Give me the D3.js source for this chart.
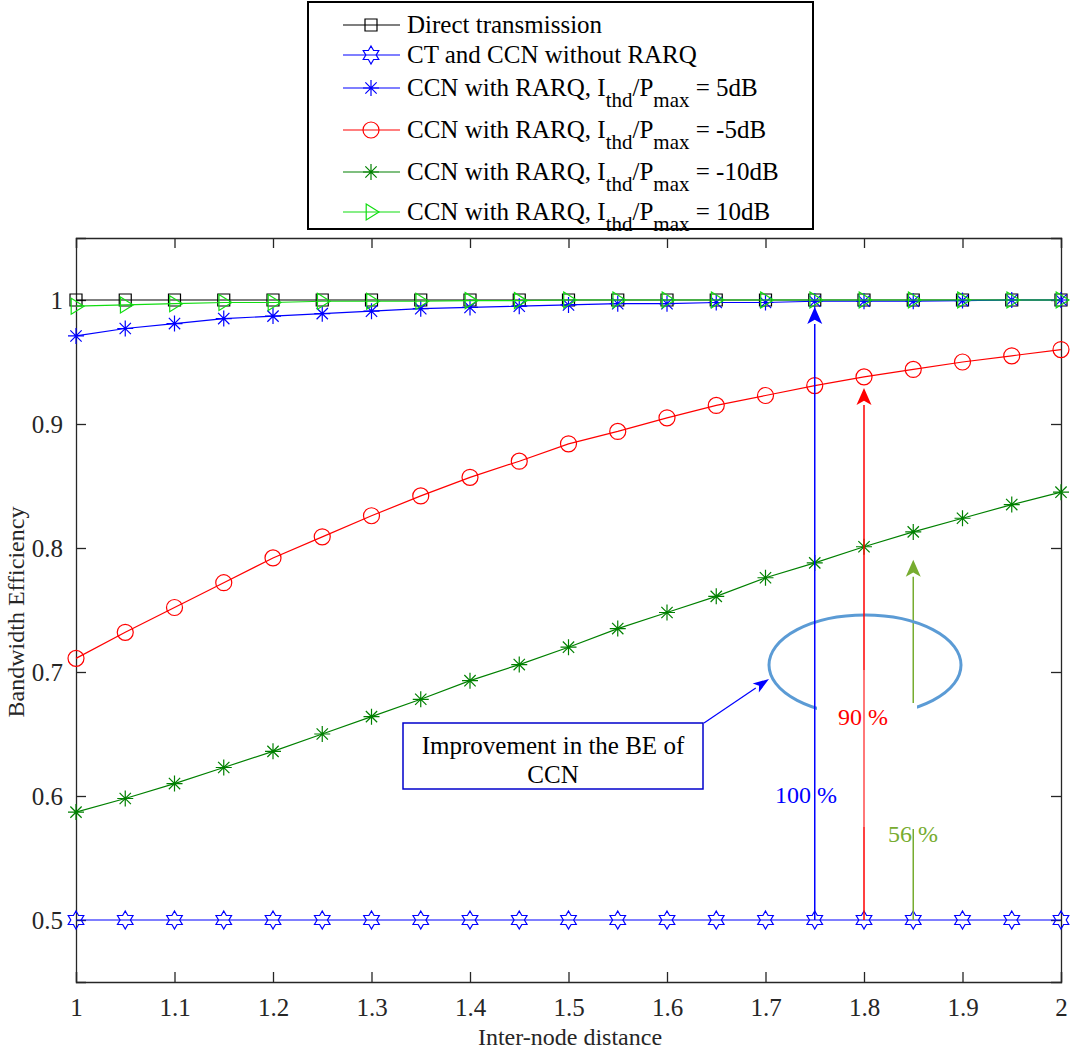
<!DOCTYPE html>
<html><head><meta charset="utf-8">
<script src="https://cdn.jsdelivr.net/npm/d3@7"></script>
<style>body{margin:0;background:#fff}svg{display:block}text{font-family:"Liberation Serif","Times New Roman",serif;}</style>
</head><body><svg id="c" width="1090" height="1050"></svg>
<script>
const xVals = [1,1.05,1.1,1.15,1.2,1.25,1.3,1.35,1.4,1.45,1.5,1.55,1.6,1.65,1.7,1.75,1.8,1.85,1.9,1.95,2];
const direct = [1,1,1,1,1,1,1,1,1,1,1,1,1,1,1,1,1,1,1,1,1];
const ctNoRarq = [0.5,0.5,0.5,0.5,0.5,0.5,0.5,0.5,0.5,0.5,0.5,0.5,0.5,0.5,0.5,0.5,0.5,0.5,0.5,0.5,0.5];
const rarq5 = [0.971,0.977,0.981,0.985,0.987,0.989,0.991,0.993,0.994,0.995,0.996,0.997,0.997,0.998,0.998,0.999,0.999,0.999,0.9995,1,1];
const rarqM5 = [0.711,0.732,0.752,0.772,0.792,0.809,0.826,0.842,0.857,0.870,0.884,0.894,0.905,0.915,0.923,0.931,0.938,0.944,0.950,0.955,0.960];
const rarqM10 = [0.587,0.598,0.610,0.623,0.636,0.650,0.664,0.678,0.693,0.706,0.720,0.735,0.748,0.761,0.776,0.788,0.801,0.813,0.824,0.835,0.845];
const rarq10 = [0.995,0.996,0.997,0.998,0.998,0.999,0.999,0.999,0.9995,0.9995,1,1,1,1,1,1,1,1,1,1,1];
const xTicks = [1,1.1,1.2,1.3,1.4,1.5,1.6,1.7,1.8,1.9,2];
const yTicks = [0.5,0.6,0.7,0.8,0.9,1];
const legendLabels = [
  ["Direct transmission"],
  ["CT and CCN without RARQ"],
  ["CCN with RARQ, I","thd","/P","max"," = 5dB"],
  ["CCN with RARQ, I","thd","/P","max"," = -5dB"],
  ["CCN with RARQ, I","thd","/P","max"," = -10dB"],
  ["CCN with RARQ, I","thd","/P","max"," = 10dB"]
];
const annotLabels = ["100 %","90 %","56 %"];
const annotX = [1.75,1.8,1.85];
const annotTop = [1.0,0.938,0.801];
const boxText = ["Improvement in the BE of","CCN"];

const svg = d3.select("#c");
const L=76,R=1061,T=238,B=982;
const x = d3.scaleLinear().domain([1,2]).range([L,R]);
const y = d3.scaleLinear().domain([0.45,1.05]).range([B,T]);

const ax = svg.append("g");
const axCol="#262626";
ax.append("g").attr("transform",`translate(0,${B})`).call(d3.axisBottom(x).tickValues(xTicks).tickSize(-10).tickFormat(d3.format("")).tickPadding(16));
ax.append("g").attr("transform",`translate(0,${T})`).call(d3.axisTop(x).tickValues(xTicks).tickSize(-10).tickFormat(""));
ax.append("g").attr("transform",`translate(${L},0)`).call(d3.axisLeft(y).tickValues(yTicks).tickSize(-10).tickFormat(d3.format("")).tickPadding(13));
ax.append("g").attr("transform",`translate(${R},0)`).call(d3.axisRight(y).tickValues(yTicks).tickSize(-10).tickFormat(""));
ax.selectAll(".domain").attr("stroke",axCol).attr("stroke-width",1.3);
ax.selectAll(".tick line").attr("stroke",axCol).attr("stroke-width",1.3);
ax.selectAll(".tick text").attr("fill","#262626").style("font-size","25px");

svg.append("text").attr("x",570).attr("y",1045).attr("text-anchor","middle").style("font-size","24px").attr("fill","#262626").text("Inter-node distance");
svg.append("text").attr("transform","translate(24,612) rotate(-90)").attr("text-anchor","middle").style("font-size","24px").attr("fill","#262626").text("Bandwidth Efficiency");

function hexagram(R){const r=R/Math.sqrt(3);let p=[];for(let i=0;i<12;i++){const a=-Math.PI/2+i*Math.PI/6;const rr=i%2?r:R;p.push([rr*Math.cos(a),rr*Math.sin(a)]);}return "M"+p.map(d=>d.join(",")).join("L")+"Z";}
function asterisk(s){const d=s*0.707;return `M${-s},0L${s},0M0,${-s}L0,${s}M${-d},${-d}L${d},${d}M${-d},${d}L${d},${-d}`;}
function triRight(s){return `M${-s*0.6},${-s}L${s},0L${-s*0.6},${s}Z`;}
function square(s){return `M${-s},${-s}H${s}V${s}H${-s}Z`;}
const markers = {
  square: g=>g.append("path").attr("d",square(6)),
  hex: g=>g.append("path").attr("d",hexagram(9)),
  ast: g=>g.append("path").attr("d",asterisk(8)),
  circ: g=>g.append("circle").attr("r",8),
  tri: g=>g.append("path").attr("d",triRight(8))
};
const series = [
  {v:direct,c:"#000000",m:"square"},
  {v:ctNoRarq,c:"#0000ff",m:"hex"},
  {v:rarq5,c:"#0000ff",m:"ast"},
  {v:rarqM5,c:"#ff0000",m:"circ"},
  {v:rarqM10,c:"#008000",m:"ast"},
  {v:rarq10,c:"#11dd11",m:"tri"}
];
const line = d3.line().x((d,i)=>x(xVals[i])).y(d=>y(d));
const plot = svg.append("g");
series.forEach(s=>{
  const g=plot.append("g");
  g.append("path").attr("d",line(s.v)).attr("fill","none").attr("stroke",s.c).attr("stroke-width",1.2);
  s.v.forEach((v,i)=>{
    const mg=g.append("g").attr("transform",`translate(${x(xVals[i])},${y(v)})`).attr("fill","none").attr("stroke",s.c).attr("stroke-width",1.2);
    markers[s.m](mg);
  });
});

function arrow(x1,y1,x2,y2,col,w,hl,hw){
  const g=svg.append("g");
  const a=Math.atan2(y2-y1,x2-x1);
  const bx=x2-hl*Math.cos(a), by=y2-hl*Math.sin(a);
  g.append("line").attr("x1",x1).attr("y1",y1).attr("x2",bx).attr("y2",by).attr("stroke",col).attr("stroke-width",w);
  const px=-Math.sin(a)*hw/2, py=Math.cos(a)*hw/2;
  const ix=x2-hl*0.75*Math.cos(a), iy=y2-hl*0.75*Math.sin(a);
  g.append("path").attr("d",`M${x2},${y2}L${bx+px},${by+py}L${ix},${iy}L${bx-px},${by-py}Z`).attr("fill",col);
  return g;
}
arrow(x(annotX[2]),y(0.5),x(annotX[2]),y(annotTop[2])+13,"#77ac30",1.5,17,15);
svg.append("ellipse").attr("cx",865).attr("cy",665).attr("rx",96).attr("ry",50).attr("fill","none").attr("stroke","#5b9bd5").attr("stroke-width",3);
svg.append("rect").attr("x",817).attr("y",703).attr("width",100).attr("height",126).attr("fill","#fff");
arrow(x(annotX[1]),y(0.5),x(annotX[1]),y(annotTop[1])+11,"#ff0000",1.5,17,15);
svg.append("rect").attr("x",x(annotX[1])-3).attr("y",670).attr("width",6).attr("height",157).attr("fill","#fff").attr("opacity",0.3);
arrow(x(annotX[0]),y(0.5),x(annotX[0]),y(annotTop[0])+7,"#0000ff",1.5,17,15);
const annCols=["#0000ff","#ff0000","#77ac30"];
const annPos=[[806,803],[863,725],[913,842]];
annotLabels.forEach((t,i)=>{
  svg.append("text").attr("x",annPos[i][0]).attr("y",annPos[i][1]).attr("text-anchor","middle").style("font-size","24px").attr("fill",annCols[i]).text(t);
});
svg.append("rect").attr("x",403).attr("y",723).attr("width",300).attr("height",66).attr("fill","#fff").attr("stroke","#0000cc").attr("stroke-width",1.5);
boxText.forEach((t,i)=>svg.append("text").attr("x",553).attr("y",754+i*29).attr("text-anchor","middle").style("font-size","25px").attr("fill","#000").text(t));
arrow(704,723,769,679,"#0000ff",1.2,16,11);

const lg = svg.append("g");
lg.append("rect").attr("x",308).attr("y",2).attr("width",505).attr("height",227).attr("fill","#fff").attr("stroke","#000").attr("stroke-width",2);
const rowY=[25,55,88,130,172,212];
series.forEach((s,i)=>{
  const cy=rowY[i];
  lg.append("line").attr("x1",343).attr("x2",400).attr("y1",cy).attr("y2",cy).attr("stroke",s.c).attr("stroke-width",1.2);
  const mg=lg.append("g").attr("transform",`translate(371,${cy})`).attr("fill","none").attr("stroke",s.c).attr("stroke-width",1.2);
  markers[s.m](mg);
  const t=lg.append("text").attr("x",407).attr("y",cy+8).style("font-size","25px").attr("fill","#000");
  const parts=legendLabels[i];
  if(parts.length===1){t.text(parts[0]);}
  else{
    t.append("tspan").text(parts[0]);
    t.append("tspan").attr("dy",11).style("font-size","21px").text(parts[1]);
    t.append("tspan").attr("dy",-11).text(parts[2]);
    t.append("tspan").attr("dy",11).style("font-size","21px").text(parts[3]);
    t.append("tspan").attr("dy",-11).text(parts[4]);
  }
});
</script></body></html>
